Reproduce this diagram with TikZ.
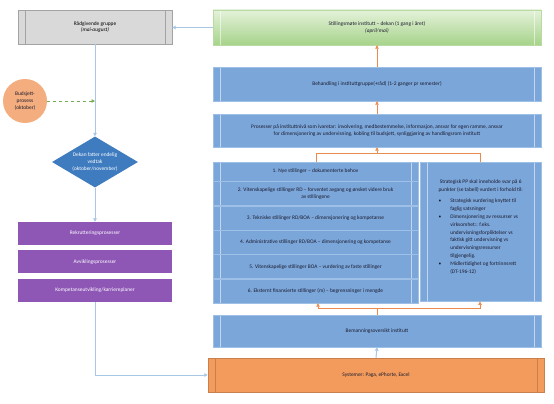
\documentclass[tikz,border=0pt]{standalone}
\usepackage{fontspec}
\setmainfont{Carlito}
\usetikzlibrary{positioning}
\usetikzlibrary{shapes.geometric}
\usetikzlibrary{arrows.meta}
\definecolor{boxblue}{HTML}{7BA6D9}
\definecolor{edgeblue}{HTML}{9EBFE6}
\definecolor{ink}{HTML}{1B1B2F}
\definecolor{boxgray}{HTML}{D9D9D9}
\definecolor{graybd}{HTML}{A3A3A3}
\definecolor{greentop}{HTML}{E4F2DA}
\definecolor{greenbot}{HTML}{A6D38A}
\definecolor{greenbd}{HTML}{B9DBA3}
\definecolor{dekanblue}{HTML}{3F7CBF}
\definecolor{purp}{HTML}{8E57B6}
\definecolor{budorange}{HTML}{F4AD7E}
\definecolor{sysorange}{HTML}{F29B5C}
\definecolor{sysbd}{HTML}{C8804F}
\definecolor{linkblue}{HTML}{A7C7E7}
\definecolor{linkorange}{HTML}{E98A4E}
\definecolor{dashgreen}{HTML}{77AD52}

\begin{document}
\begin{tikzpicture}[x=1pt, y=-1pt,
  font=\fontsize{5.4}{6.6}\selectfont,
  predef/.style={path picture={
    \draw[#1] ([xshift=7pt]path picture bounding box.north west) -- ([xshift=7pt]path picture bounding box.south west)
              ([xshift=-7pt]path picture bounding box.north east) -- ([xshift=-7pt]path picture bounding box.south east);}},
  predef/.default={white, opacity=.55},
  blubox/.style={draw=edgeblue, fill=boxblue, text=ink, minimum width=328pt, align=center, predef},
  rowbox/.style={draw=edgeblue, fill=boxblue, text=ink, minimum width=205pt, minimum height=24pt, align=center, predef},
  purbox/.style={fill=purp, text=white, minimum width=154pt, minimum height=23pt},
  link/.style={draw=linkblue, line width=1pt, -{Triangle[length=3.5pt,width=3.5pt]}},
  olink/.style={draw=linkorange, line width=.6pt},
  oarrow/.style={olink, -{Triangle[length=3.5pt,width=3.5pt]}},
  ]
%\draw [help lines, step=20] (0,0) grid (554,404);
\useasboundingbox (0,0) rectangle (554,404);

% left column
\node[draw=graybd, fill=boxgray, minimum width=154pt, minimum height=34pt, align=center, predef=graybd] (rad) at (95,27) {Rådgivende gruppe\\\textit{(mai-august)}};
\node[circle, fill=budorange, minimum size=44pt, inner sep=0pt, align=center, text=ink] (bud) at (25,101) {Budsjett-\\prosess\\(oktober)};
\node[diamond, fill=dekanblue, text=white, minimum width=86pt, minimum height=51pt, aspect=1.7, inner sep=0pt, align=center] (dekan) at (95,162) {Dekan fatter endelig\\vedtak\\(oktober/november)};
\node[purbox]                   (rek)  at (95,233.5) {Rekrutteringsprosesser};
\node[purbox, below=5pt of rek] (avv)  {Avviklingsprosesser};
\node[purbox, below=5pt of avv] (komp) {Kompetanseutvikling/karriereplaner};

% right column
\node[draw=greenbd, top color=greentop, bottom color=greenbot, text=ink, minimum width=328pt, minimum height=35pt, align=center, predef] (moete) at (377,27.5) {Stillingsmøte institutt – dekan (1 gang i året)\\\textit{(april/mai)}};
\node[blubox, minimum height=34pt] (behand) at (377,84) {Behandling i instituttgruppe(+råd) (1-2 ganger pr semester)};
\node[blubox, minimum height=33pt] (pros) at (377,130.5) {Prosesser på instituttnivå som ivaretar: involvering, medbestemmelse, informasjon, ansvar for egen ramme, ansvar\\for dimensjonering av undervisning, kobling til budsjett, synliggjøring av handlingsrom institutt};

\node[rowbox, minimum height=19pt] (r1) at (315.5,171.5) {1. Nye stillinger – dokumenterte behov};
\node[rowbox, below=0pt of r1] (r2) {2. Vitenskapelige stillinger RD – forventet avgang og ønsket videre bruk\\av stillingene};
\node[rowbox, below=0pt of r2] (r3) {3. Tekniske stillinger RD/BOA – dimensjonering og kompetanse};
\node[rowbox, below=0pt of r3] (r4) {4. Administrative stillinger RD/BOA – dimensjonering og kompetanse};
\node[rowbox, below=0pt of r4] (r5) {5. Vitenskapelige stillinger BOA – vurdering av faste stillinger};
\node[rowbox, below=0pt of r5] (r6) {6. Eksternt finansierte stillinger (m) – begrensninger i mengde};

\node[draw=edgeblue, fill=boxblue, text=ink, minimum width=121pt, minimum height=139pt, predef, font=\fontsize{5.4}{7.8}\selectfont, anchor=north west] (pp) at (420,162) {%
  \begin{tabular}{@{}l@{\hspace{9pt}}l@{}}
  \multicolumn{2}{@{}c@{}}{Strategisk PP skal inneholde svar på 6}\\
  \multicolumn{2}{@{}c@{}}{punkter (se tabell) vurdert i forhold til:}\\[4pt]
  \textbullet & Strategisk vurdering knyttet til\\
              & faglig satsninger\\
  \textbullet & Dimensjonering av ressurser vs\\
              & virksomhet:: f.eks.\\
              & undervisningsforpliktelser vs\\
              & faktisk gitt undervisning vs\\
              & undervisningsressurser\\
              & tilgjengelig.\\
  \textbullet & Midlertidighet og fortrinnsrett\\
              & (DT-196-12)\\[10pt]
  \end{tabular}};

\node[blubox, minimum height=32pt] (beman) at (377,331) {Bemanningsoversikt institutt};
\node[draw=sysbd, fill=sysorange, text=ink, minimum width=336pt, minimum height=34pt, predef=sysbd] (sys) at (376,375) {Systemer: Paga, ePhorte, Excel};

\coordinate (bl) at (316,153);
\coordinate (br) at (480,153);
\coordinate (bm) at (377,153);
\coordinate (cl) at (318,308.5);
\coordinate (cr) at (480,308.5);

% Edges
\draw[link] (moete.west) -- (moete.west -| rad.east);
\draw[link] (rad.south) -- (dekan.north);
\draw[draw=dashgreen, line width=.8pt, dashed, -{Triangle[length=3.5pt,width=3.5pt]}] (bud.east) -- (bud.east -| rad.south);
\draw[link] (dekan.south) -- (rek.north);
\draw[link] (komp.south) |- (sys.west);
\draw[link] (sys.north) -- (beman.south);

\draw[oarrow] (behand.north) -- (moete.south);
\draw[oarrow] (pros.north) -- (behand.south);
\draw[olink] (bl |- r1.north) -- (bl) -- (br) -- (br |- pp.north);
\draw[oarrow] (bm) -- (pros.south);
\draw[olink] (beman.north) -- (beman.north |- cl);
\draw[olink] (cl) -- (cr);
\draw[oarrow] (cl) -- (cl |- r6.south);
\draw[oarrow] (cr) -- (cr |- pp.south);
\end{tikzpicture}
\end{document}
